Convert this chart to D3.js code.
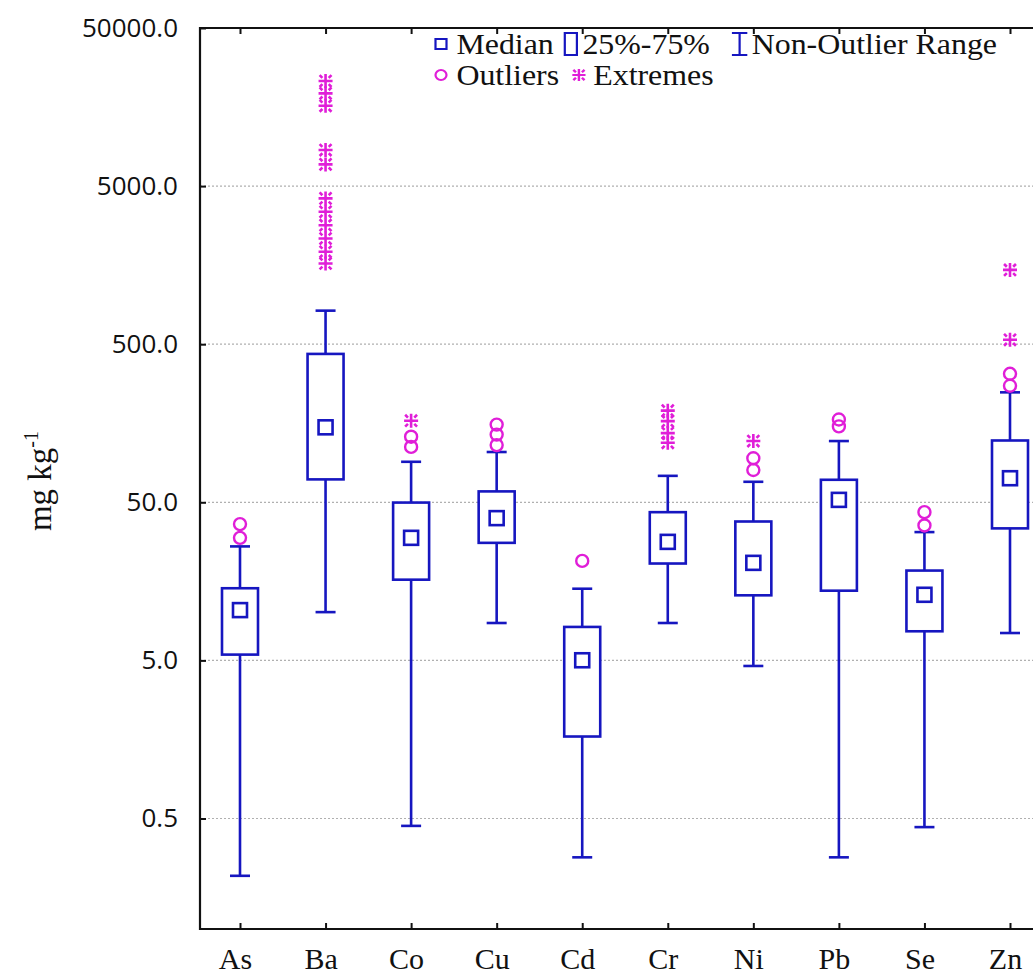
<!DOCTYPE html>
<html>
<head>
<meta charset="utf-8">
<script src="https://cdn.jsdelivr.net/npm/d3@7"></script>
<style>
  body { margin: 0; background: #fff; }
  svg { display: block; }
</style>
</head>
<body>
<div id="drawing"></div>
<script>
// data (mg/kg, log axis)
var elements   = ["As", "Ba", "Co", "Cu", "Cd", "Cr", "Ni", "Pb", "Se", "Zn"];
var medians    = [10.4, 149, 29.8, 39.7, 5.01, 28.1, 20.7, 51.8, 13.0, 71.0];
var q1s        = [5.44, 69.8, 16.2, 27.7, 1.65, 20.5, 12.9, 13.8, 7.64, 34.2];
var q3s        = [14.3, 434, 49.8, 58.6, 8.14, 43.3, 37.8, 69.4, 18.5, 123];
var whiskerLow = [0.217, 10.1, 0.449, 8.62, 0.284, 8.62, 4.61, 0.284, 0.441, 7.45];
var whiskerHi  = [26.3, 815, 90.2, 104, 14.2, 73.5, 67.4, 122, 32.4, 248];
var outliers   = [[36.4, 29.8], [], [130, 112], [155, 134, 115], [21.3], [], [95, 80], [167, 151], [43.3, 35.7], [325, 273]];
var extremes   = [[], [23100, 19300, 16100, 8450, 6860, 4180, 3440, 2830, 2330, 1920, 1620], [164], [], [], [190, 163, 137, 119], [122], [], [], [1475, 533]];
var yTicks     = [0.5, 5, 50, 500, 5000, 50000];

var width = 1033;
var height = 977;
var plot = {left: 200, top: 28, right: 1052, bottom: 929};
var blue = "#1616c0";
var pink = "#e01ed8";

var svg = d3.select("#drawing").append("svg")
  .attr("width", width)
  .attr("height", height)
  .style("background", "#fff");

var xScale = d3.scalePoint().domain(elements).range([240, 1010]);
var yScale = d3.scaleLog().domain([0.1, 50000]).range([plot.bottom, plot.top]);

// gridlines (dotted), not on the top edge
svg.append("g").selectAll("line")
  .data(yTicks.filter(d => d < 50000))
  .enter().append("line")
    .attr("x1", plot.left).attr("x2", plot.right)
    .attr("y1", d => yScale(d)).attr("y2", d => yScale(d))
    .style("stroke", "#b0b0b0")
    .style("stroke-width", 1.2)
    .style("stroke-dasharray", "2,2");

// axes
var yAxis = svg.append("g")
  .attr("transform", `translate(${plot.left},0)`)
  .call(d3.axisLeft(yScale).tickValues(yTicks).tickFormat(d3.format(".1f")).tickSize(-6).tickPadding(22));
yAxis.selectAll("text")
  .style("font-family", "'Open Sans', sans-serif")
  .style("font-size", "26px")
  .style("fill", "#111");

var xAxis = svg.append("g")
  .attr("transform", `translate(0,${plot.bottom})`)
  .call(d3.axisBottom(xScale).tickSize(-6).tickPadding(19));
xAxis.selectAll("text")
  .attr("dx", -5)
  .style("font-family", "'Liberation Serif', serif")
  .style("font-size", "30px")
  .style("fill", "#111");

var topAxis = svg.append("g")
  .attr("transform", `translate(0,${plot.top})`)
  .call(d3.axisTop(xScale).tickSize(-6).tickFormat(""));

svg.selectAll(".domain").remove();
svg.selectAll(".tick line").style("stroke", "#111").style("stroke-width", 2);

// frame
svg.append("path")
  .attr("d", `M${plot.right},${plot.top}H${plot.left}V${plot.bottom}H${plot.right}`)
  .style("fill", "none")
  .style("stroke", "#111")
  .style("stroke-width", 2.2);

// y title
var yTitle = svg.append("text")
  .attr("transform", "translate(51,481) rotate(-90)")
  .attr("text-anchor", "middle")
  .style("font-family", "'Liberation Serif', serif")
  .style("font-size", "33px")
  .style("fill", "#111");
yTitle.append("tspan").text("mg kg");
yTitle.append("tspan").attr("dy", -13).style("font-size", "20px").text("-1");

// boxes
var boxW = 36, capW = 20, medS = 14;
var boxes = svg.append("g").selectAll("g")
  .data(elements)
  .enter().append("g")
    .attr("transform", d => `translate(${xScale(d)},0)`);

boxes.append("line")
  .attr("y1", (d, i) => yScale(whiskerLow[i]))
  .attr("y2", (d, i) => yScale(whiskerHi[i]));
boxes.append("line")
  .attr("x1", -capW / 2).attr("x2", capW / 2)
  .attr("y1", (d, i) => yScale(whiskerLow[i]))
  .attr("y2", (d, i) => yScale(whiskerLow[i]));
boxes.append("line")
  .attr("x1", -capW / 2).attr("x2", capW / 2)
  .attr("y1", (d, i) => yScale(whiskerHi[i]))
  .attr("y2", (d, i) => yScale(whiskerHi[i]));
boxes.append("rect")
  .attr("x", -boxW / 2).attr("width", boxW)
  .attr("y", (d, i) => yScale(q3s[i]))
  .attr("height", (d, i) => yScale(q1s[i]) - yScale(q3s[i]))
  .style("fill", "#fff");
boxes.append("rect")
  .attr("x", -medS / 2).attr("width", medS)
  .attr("y", (d, i) => yScale(medians[i]) - medS / 2)
  .attr("height", medS)
  .style("fill", "#fff");
boxes.selectAll("line, rect")
  .style("stroke", blue)
  .style("stroke-width", 2.6);

// outliers
boxes.selectAll(".outlier")
  .data((d, i) => outliers[i])
  .enter().append("circle")
    .attr("class", "outlier")
    .attr("cy", d => yScale(d))
    .attr("r", 6)
    .style("fill", "none")
    .style("stroke", pink)
    .style("stroke-width", 2.4);

// extremes, an asterisk
function starPath(s) {
  var t = s * 0.45, u = s * 0.85;
  return `M0,${-s}V${s}M${-s},0H${s}` +
    `M${t},${t}L${u},${u}M${-t},${t}L${-u},${u}M${t},${-t}L${u},${-u}M${-t},${-t}L${-u},${-u}`;
}
boxes.selectAll(".extreme")
  .data((d, i) => extremes[i])
  .enter().append("path")
    .attr("class", "extreme")
    .attr("d", starPath(7))
    .attr("transform", d => `translate(0,${yScale(d)})`)
    .style("fill", "none")
    .style("stroke", pink)
    .style("stroke-width", 2.6);

// legend (the original type is a little wide, so stretch it sideways)
var row1 = 44, row2 = 75, lx = 441;
var legend = svg.append("g")
  .attr("transform", `translate(${lx},0) scale(1.1,1) translate(${-lx},0)`)
  .style("font-family", "'Liberation Serif', serif")
  .style("font-size", "29px")
  .style("fill", "#111");

function addText(x, y, s) {
  var t = legend.append("text").attr("x", x).attr("y", y).attr("dy", "0.33em").text(s);
  return x + t.node().getComputedTextLength();
}
var x = lx;
legend.append("rect").attr("x", x - 5).attr("y", row1 - 5).attr("width", 10).attr("height", 10)
  .style("fill", "none").style("stroke", blue).style("stroke-width", 2);
x = addText(x + 14, row1, "Median");
x += 10;
legend.append("rect").attr("x", x).attr("y", row1 - 11).attr("width", 11).attr("height", 22)
  .style("fill", "none").style("stroke", blue).style("stroke-width", 2);
x = addText(x + 16, row1, "25%-75%");
x += 20;
legend.append("path")
  .attr("d", `M${x},${row1 - 11}H${x + 14}M${x + 7},${row1 - 11}V${row1 + 11}M${x},${row1 + 11}H${x + 14}`)
  .style("fill", "none").style("stroke", blue).style("stroke-width", 2);
addText(x + 18, row1, "Non-Outlier Range");

legend.append("circle").attr("cx", lx).attr("cy", row2).attr("r", 5)
  .style("fill", "none").style("stroke", pink).style("stroke-width", 2);
x = addText(lx + 14, row2, "Outliers");
legend.append("path")
  .attr("d", starPath(6))
  .attr("transform", `translate(${x + 18},${row2})`)
  .style("fill", "none").style("stroke", pink).style("stroke-width", 2.2);
addText(x + 31, row2, "Extremes");
</script>
</body>
</html>
